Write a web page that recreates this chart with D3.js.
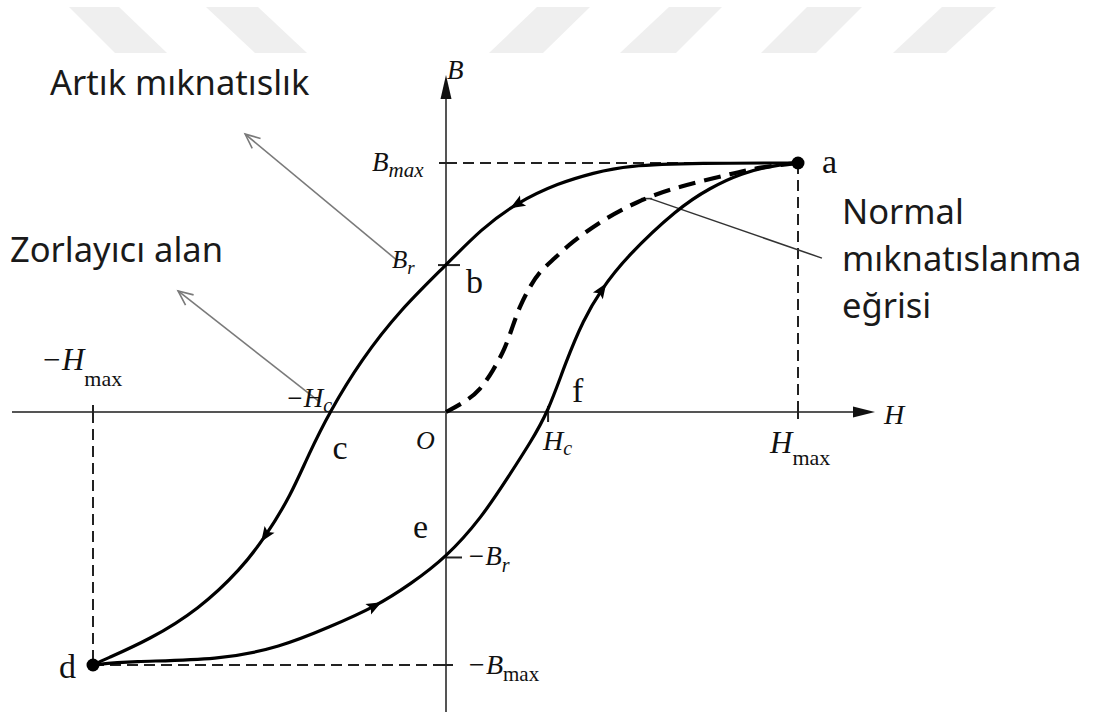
<!DOCTYPE html>
<html>
<head>
<meta charset="utf-8">
<script src="https://cdn.jsdelivr.net/npm/d3@7/dist/d3.min.js"></script>
<style>
  html, body { margin: 0; padding: 0; background: #fff; }
  svg { display: block; }
  .serif { font-family: "Liberation Serif", "DejaVu Serif", serif; fill: #111; }
  .sans { font-family: "Noto Sans", "Open Sans", sans-serif; fill: #1a1a1a; }
</style>
</head>
<body>
<svg id="chart" width="1099" height="713"></svg>
<script>
// Normalised units: H / Hmax and B / Bmax
const H_MAX = 1, B_MAX = 1;
const B_R = 0.59, B_R_NEG = -0.575;
const H_C = 0.29, H_C_NEG = -0.33;

// Descending branch a -> b -> c -> d  [H, B]
const descendingH = [1.00, 0.72, 0.51, 0.42, 0.32, 0.20, 0.10, 0.00, -0.13, -0.24, -0.33, -0.39, -0.44, -0.51, -0.58, -0.70, -0.84, -0.97, -1.00];
const descendingB = [1.00, 1.00, 0.99, 0.96, 0.92, 0.84, 0.735, 0.59, 0.41, 0.21, 0.00, -0.17, -0.33, -0.49, -0.62, -0.78, -0.90, -0.98, -1.00];

// Ascending branch d -> e -> f -> a
const ascendingH = [-1.00, -0.90, -0.64, -0.47, -0.33, -0.20, -0.10, 0.00, 0.10, 0.18, 0.24, 0.29, 0.34, 0.39, 0.44, 0.51, 0.66, 0.75, 0.84, 0.93, 1.00];
const ascendingB = [-1.00, -0.985, -0.98, -0.93, -0.85, -0.77, -0.68, -0.575, -0.42, -0.25, -0.12, 0.00, 0.20, 0.37, 0.49, 0.62, 0.82, 0.90, 0.96, 0.99, 1.00];

// Initial (normal) magnetisation curve O -> a
const initialH = [0.00, 0.054, 0.097, 0.134, 0.168, 0.190, 0.210, 0.239, 0.267, 0.310, 0.352, 0.446, 0.543, 0.636, 0.798, 0.892, 1.00];
const initialB = [0.00, 0.040, 0.088, 0.167, 0.255, 0.347, 0.426, 0.506, 0.566, 0.618, 0.677, 0.773, 0.845, 0.896, 0.952, 0.984, 1.00];

// Direction arrows along the loop [H, B]
const descArrowsH = [0.20, -0.51];
const descArrowsB = [0.84, -0.49];
const ascArrowsH = [-0.20, 0.44];
const ascArrowsB = [-0.77, 0.49];

// Text labels
const pointLabels = ["a", "b", "c", "d", "e", "f"];
const annotationTexts = ["Artık mıknatıslık", "Zorlayıcı alan", "Normal", "mıknatıslanma", "eğrisi"];

const svg = d3.select("#chart");

// ---- faint diagonal stripes along the top edge ----
const stripes = [
  [[69, 7], [119, 7], [167, 53], [115, 53]],
  [[206, 7], [258, 7], [307, 53], [255, 53]],
  [[537, 7], [590, 7], [543, 53], [489, 53]],
  [[669, 7], [722, 7], [676, 53], [620, 53]],
  [[807, 7], [862, 7], [816, 53], [761, 53]],
  [[942, 7], [996, 7], [946, 53], [893, 53]]
];
svg.append("g").selectAll("polygon").data(stripes).join("polygon")
  .attr("points", d => d.map(p => p.join(",")).join(" "))
  .attr("fill", "#efefef");

// ---- scales ----
const x = d3.scaleLinear().domain([-1, 0, 1]).range([93, 446, 798]);
const y = d3.scaleLinear().domain([-1, 0, 1]).range([665, 412, 163]);

const zip = (hs, bs) => hs.map((h, i) => [h, bs[i]]);
const line = d3.line().x(d => x(d[0])).y(d => y(d[1])).curve(d3.curveBasis);

// ---- dashed guides to the extreme points ----
const guides = svg.append("g").attr("stroke", "#222").attr("stroke-width", 2)
  .attr("stroke-dasharray", "11,6").attr("fill", "none");
guides.append("line").attr("x1", x(0)).attr("x2", x(H_MAX)).attr("y1", y(B_MAX)).attr("y2", y(B_MAX));
guides.append("line").attr("x1", x(H_MAX)).attr("x2", x(H_MAX)).attr("y1", y(B_MAX)).attr("y2", y(0));
guides.append("line").attr("x1", x(-H_MAX)).attr("x2", x(0)).attr("y1", y(-B_MAX)).attr("y2", y(-B_MAX));
guides.append("line").attr("x1", x(-H_MAX)).attr("x2", x(-H_MAX)).attr("y1", y(0)).attr("y2", y(-B_MAX));

// ---- axes ----
const axisColor = "#555";
const hLeft = x.invert(12), hRight = x.invert(875);
const bBottom = y.invert(712), bTop = y.invert(75);
svg.append("line").attr("x1", x(hLeft)).attr("x2", x(hRight) - 18).attr("y1", y(0)).attr("y2", y(0))
  .attr("stroke", axisColor).attr("stroke-width", 2.2);
svg.append("line").attr("x1", x(0)).attr("x2", x(0)).attr("y1", y(bBottom)).attr("y2", y(bTop) + 18)
  .attr("stroke", axisColor).attr("stroke-width", 2);
// arrowheads
svg.append("path")
  .attr("d", `M${x(hRight)},${y(0)} L${x(hRight) - 22},${y(0) - 5.5} L${x(hRight) - 22},${y(0) + 5.5} Z`)
  .attr("fill", "#111");
svg.append("path")
  .attr("d", `M${x(0)},${y(bTop)} L${x(0) - 5.5},${y(bTop) + 24} L${x(0) + 5.5},${y(bTop) + 24} Z`)
  .attr("fill", "#111");

// ---- ticks ----
const tick = svg.append("g").attr("stroke", "#222").attr("stroke-width", 2);
tick.append("line").attr("x1", x(0) - 7).attr("x2", x(0) + 7).attr("y1", y(B_MAX)).attr("y2", y(B_MAX));
tick.append("line").attr("x1", x(0) - 8).attr("x2", x(0) + 14).attr("y1", y(B_R)).attr("y2", y(B_R));
tick.append("line").attr("x1", x(0)).attr("x2", x(0) + 16).attr("y1", y(B_R_NEG)).attr("y2", y(B_R_NEG));
tick.append("line").attr("x1", x(0) - 7).attr("x2", x(0) + 7).attr("y1", y(-B_MAX)).attr("y2", y(-B_MAX));
tick.append("line").attr("x1", x(H_C)).attr("x2", x(H_C)).attr("y1", y(0) - 6).attr("y2", y(0) + 10);
tick.append("line").attr("x1", x(-H_MAX)).attr("x2", x(-H_MAX)).attr("y1", y(0) - 7).attr("y2", y(0) + 7);
tick.append("line").attr("x1", x(H_MAX)).attr("x2", x(H_MAX)).attr("y1", y(0) - 7).attr("y2", y(0) + 7);

// ---- pointer lines with open arrowheads ----
const pointers = [
  { from: [-0.136, 0.606], to: [-0.569, 1.116], head: true },
  { from: [-0.357, 0.040], to: [-0.759, 0.486], head: true },
  { from: [1.068, 0.618], to: [0.58, 0.857], head: false }
];
const pg = svg.append("g").attr("stroke", "#7a7a7a").attr("stroke-width", 1.6).attr("fill", "none");
pointers.forEach(p => {
  const x1 = x(p.from[0]), y1 = y(p.from[1]), x2 = x(p.to[0]), y2 = y(p.to[1]);
  pg.append("line").attr("x1", x1).attr("y1", y1).attr("x2", x2).attr("y2", y2)
    .attr("stroke", p.head ? "#7a7a7a" : "#333").attr("stroke-width", p.head ? 1.6 : 1.5);
  if (p.head) {
    const ang = Math.atan2(y1 - y2, x1 - x2);
    const L = 16, spread = 0.42;
    const a1 = ang + spread, a2 = ang - spread;
    pg.append("path")
      .attr("d", `M${x2 + L * Math.cos(a1)},${y2 + L * Math.sin(a1)} L${x2},${y2} L${x2 + L * Math.cos(a2)},${y2 + L * Math.sin(a2)}`);
  } else {
    pg.append("line").attr("x1", x2 - 9).attr("x2", x2 + 2).attr("y1", y2).attr("y2", y2)
      .attr("stroke", "#333");
  }
});

// ---- hysteresis loop ----
const loop = svg.append("g").attr("fill", "none").attr("stroke", "#000")
  .attr("stroke-linecap", "round").attr("stroke-linejoin", "round");
const descPath = loop.append("path").attr("d", line(zip(descendingH, descendingB))).attr("stroke-width", 3.2);
const ascPath = loop.append("path").attr("d", line(zip(ascendingH, ascendingB))).attr("stroke-width", 3.2);
loop.append("path").attr("d", line(zip(initialH, initialB)))
  .attr("stroke-width", 4.2).attr("stroke-dasharray", "17,9").attr("stroke-linecap", "butt");

// arrowheads placed on the curve at the nearest point, oriented along travel
function placeArrows(pathSel, hs, bs) {
  const node = pathSel.node();
  const total = node.getTotalLength();
  hs.forEach((h, i) => {
    const tx = x(h), ty = y(bs[i]);
    let best = 0, bestD = Infinity;
    for (let l = 0; l <= total; l += 1) {
      const p = node.getPointAtLength(l);
      const d = (p.x - tx) ** 2 + (p.y - ty) ** 2;
      if (d < bestD) { bestD = d; best = l; }
    }
    const p0 = node.getPointAtLength(Math.max(0, best - 3));
    const p1 = node.getPointAtLength(Math.min(total, best + 3));
    const ang = Math.atan2(p1.y - p0.y, p1.x - p0.x) * 180 / Math.PI;
    const c = node.getPointAtLength(best);
    svg.append("path")
      .attr("d", "M8,0 L-7,-6 L-4,0 L-7,6 Z")
      .attr("transform", `translate(${c.x},${c.y}) rotate(${ang})`)
      .attr("fill", "#000");
  });
}
placeArrows(descPath, descArrowsH, descArrowsB);
placeArrows(ascPath, ascArrowsH, ascArrowsB);

// end points a and d
svg.selectAll("circle.end").data([[H_MAX, B_MAX], [-H_MAX, -B_MAX]]).join("circle")
  .attr("cx", d => x(d[0])).attr("cy", d => y(d[1])).attr("r", 6.5).attr("fill", "#000");

// ---- mathematical labels ----
function mathLabel(px, py, main, sub, size, subSize, subDy, subItalic, mainItalic = true) {
  const t = svg.append("text").attr("class", "serif").attr("x", px).attr("y", py)
    .attr("font-size", size).attr("font-style", mainItalic ? "italic" : "normal");
  t.append("tspan").text(main);
  if (sub) {
    t.append("tspan").text(sub).attr("font-size", subSize).attr("dy", subDy)
      .attr("font-style", subItalic ? "italic" : "normal");
  }
  return t;
}
mathLabel(x(0) + 1, y(bTop) + 4, "B", null, 27);
mathLabel(x(0) - 74, y(B_MAX) + 8, "B", "max", 27, 21, 6, true);
mathLabel(x(0) - 54, y(B_R) + 3, "B", "r", 25, 19, 6, true);
mathLabel(x(0) + 21, y(B_R_NEG) + 8, "−B", "r", 27, 20, 7, true);
mathLabel(x(0) + 21, y(-B_MAX) + 9, "−B", "max", 28, 21, 7, false);
mathLabel(x(H_C) - 5, y(0) + 38, "H", "c", 28, 20, 5, true);
mathLabel(x(H_C_NEG) - 44, y(0) - 5, "−H", "c", 27, 20, 5, true);
mathLabel(x(H_MAX) - 28, y(0) + 41, "H", "max", 31, 22, 12, false);
mathLabel(x(-H_MAX) - 52, y(0) - 42, "−H", "max", 31, 22, 16, false);
mathLabel(x(hRight) + 9, y(0) + 12, "H", null, 28);
mathLabel(x(0) - 30, y(0) + 37, "O", null, 26);

// point letters
const letterPos = [
  [x(H_MAX) + 24, y(B_MAX) + 10],
  [x(0) + 20, y(B_R) + 28],
  [x(H_C_NEG) + 3, y(0) + 47],
  [x(-H_MAX) - 34, y(-B_MAX) + 13],
  [x(0) - 33, y(B_R_NEG) - 19],
  [x(H_C) + 24, y(0) - 10]
];
svg.selectAll("text.pt").data(pointLabels).join("text")
  .attr("class", "serif").attr("font-size", 34)
  .attr("x", (d, i) => letterPos[i][0]).attr("y", (d, i) => letterPos[i][1])
  .text(d => d);

// ---- annotations ----
const annPos = [[50, 95], [10, 262], [842, 224], [842, 271], [842, 318]];
svg.selectAll("text.ann").data(annotationTexts).join("text")
  .attr("class", "sans").attr("font-size", 34.5)
  .attr("x", (d, i) => annPos[i][0]).attr("y", (d, i) => annPos[i][1])
  .text(d => d);
</script>
</body>
</html>
